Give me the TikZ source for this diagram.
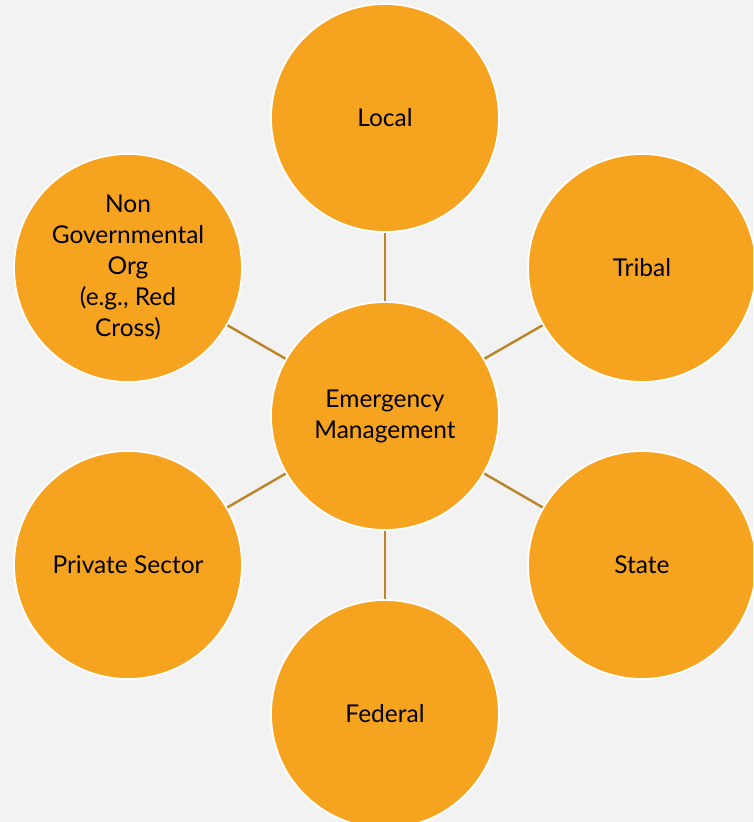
\documentclass[tikz,border=0pt]{standalone}
\usepackage{fontspec}
\setmainfont{Lato}
\definecolor{bg}{HTML}{F2F2F2}
\definecolor{orb}{HTML}{F6A420}
\definecolor{link}{HTML}{BC8428}
\begin{document}
\begin{tikzpicture}[x=1pt,y=-1pt,
  orbnode/.style={circle,fill=orb,draw=white,line width=1.8pt,minimum size=228pt,inner sep=0pt,
     align=center,font=\fontsize{24.5}{31}\selectfont,text=black},
  linkline/.style={draw=link,line width=2.4pt}]
\useasboundingbox (0,0) rectangle (753,822);
\fill[bg] (0,0) rectangle (753,822);
\clip (0,0) rectangle (753,822);
\node[orbnode] (c) at (385,416) {Emergency\\Management};
\node[orbnode] (local) at (385,118) {Local};
\node[orbnode] (tribal) at (642,268) {Tribal};
\node[orbnode] (state) at (642,565) {State};
\node[orbnode] (federal) at (385,714) {Federal};
\node[orbnode] (private) at (128,565) {Private Sector};
\node[orbnode] (ngo) at (128,268) {Non\\Governmental\\Org\\(e.g., Red\\Cross)};
\foreach \n in {local,tribal,state,federal,private,ngo}
  \draw[linkline] (c) -- (\n);
\end{tikzpicture}
\end{document}
